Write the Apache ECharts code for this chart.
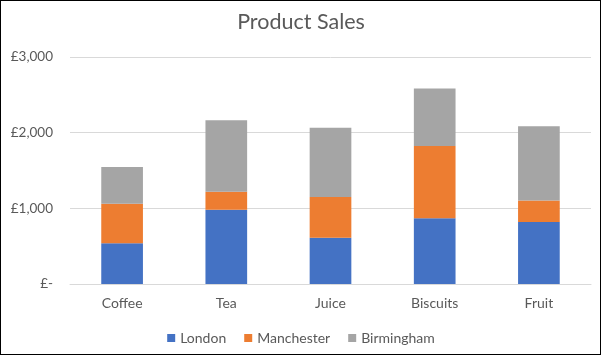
<!DOCTYPE html>
<html>
<head>
<meta charset="utf-8">
<script src="https://cdn.jsdelivr.net/npm/echarts@6/dist/echarts.min.js"></script>
<style>
html,body{margin:0;padding:0;background:#fff;}
#wrap{position:absolute;left:0;top:0;width:601px;height:355px;box-sizing:border-box;border:1px solid #000;}
#chart{position:absolute;left:-1px;top:-1px;width:602px;height:356px;}
</style>
</head>
<body>
<div id="wrap"><div id="chart"></div></div>
<script>
const categories = ['Coffee','Tea','Juice','Biscuits','Fruit'];
const london = [540, 980, 610, 870, 820];
const manchester = [520, 240, 540, 955, 285];
const birmingham = [485, 945, 915, 760, 980];
const yTicks = [0, 1000, 2000, 3000];

const chart = echarts.init(document.getElementById('chart'));
const font = 'Lato, "Open Sans", sans-serif';
const mk = (name, data, color) => ({
  name, type: 'bar', stack: 'total', data, barWidth: '40%',
  itemStyle: { color }
});
chart.setOption({
  animation: false,
  title: { text: 'Product Sales', left: 'center', top: 6,
    textStyle: { fontFamily: font, fontSize: 21.5, fontWeight: 'normal', color: '#595959' } },
  legend: { bottom: 6, left: 'center', itemWidth: 8, itemHeight: 8, itemGap: 18,
    icon: 'rect', textStyle: { fontFamily: font, fontSize: 14, color: '#595959' } },
  grid: { left: 70, right: 11, top: 57, bottom: 72, containLabel: false },
  xAxis: { type: 'category', data: categories,
    axisLine: { lineStyle: { color: '#d9d9d9' } }, axisTick: { show: false },
    axisLabel: { fontFamily: font, fontSize: 14, color: '#595959', margin: 12 } },
  yAxis: { type: 'value', min: yTicks[0], max: yTicks[yTicks.length-1], interval: 1000,
    axisLine: { show: false }, axisTick: { show: false },
    splitLine: { lineStyle: { color: '#d9d9d9' } },
    axisLabel: { fontFamily: font, fontSize: 13.5, color: '#595959', margin: 17,
      formatter: v => v === 0 ? '£-' : '£' + v.toLocaleString('en-GB') } },
  series: [
    mk('London', london, '#4472C4'),
    mk('Manchester', manchester, '#ED7D31'),
    mk('Birmingham', birmingham, '#A5A5A5')
  ]
});
</script>
</body>
</html>
